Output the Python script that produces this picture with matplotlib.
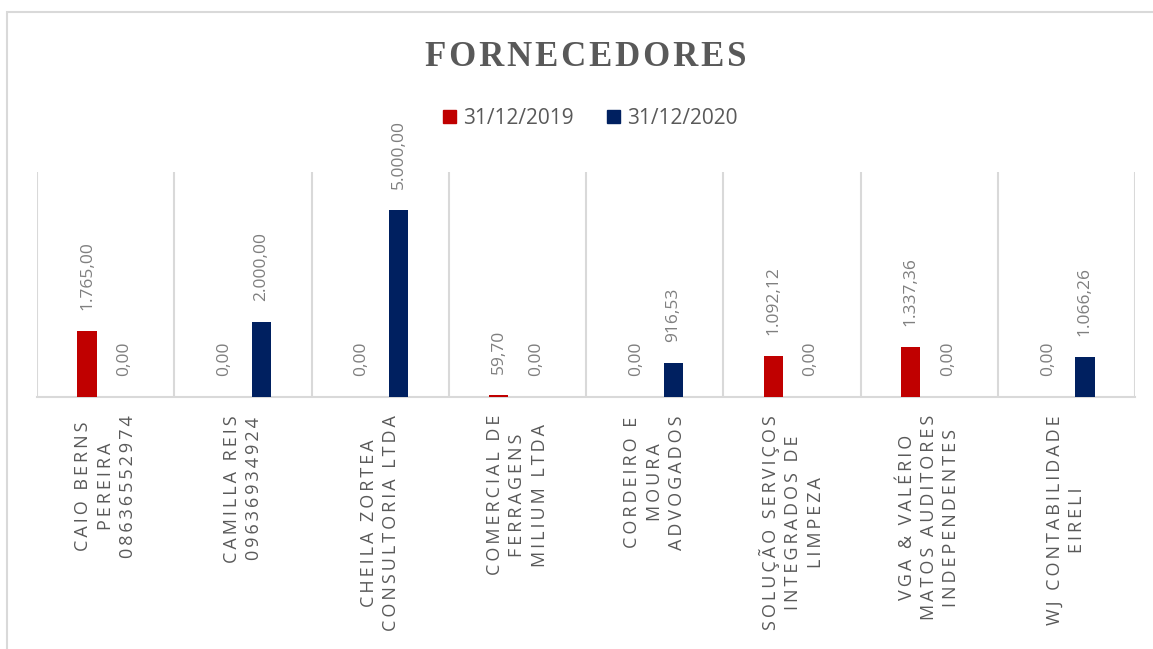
import matplotlib
matplotlib.use("Agg")
from matplotlib import pyplot as plt
from matplotlib.patches import Rectangle
import numpy as np

# data
fornecedores = ["CAIO BERNS\nPEREIRA\n08636552974",
                "CAMILLA REIS\n09636934924",
                "CHEILA ZORTEA\nCONSULTORIA LTDA",
                "COMERCIAL DE\nFERRAGENS\nMILIUM LTDA",
                "CORDEIRO E\nMOURA\nADVOGADOS",
                "SOLUÇÃO SERVIÇOS\nINTEGRADOS DE\nLIMPEZA",
                "VGA & VALÉRIO\nMATOS AUDITORES\nINDEPENDENTES",
                "WJ CONTABILIDADE\nEIRELI"]
v2019 = [1765.00, 0.00, 0.00, 59.70, 0.00, 1092.12, 1337.36, 0.00]
v2020 = [0.00, 2000.00, 5000.00, 0.00, 916.53, 0.00, 0.00, 1066.26]
series = ["31/12/2019", "31/12/2020"]

red = "#C00000"
navy = "#002060"
grey_txt = "#595959"
grid_c = "#D9D9D9"
sans = ["Open Sans", "DejaVu Sans"]

def spaced(s, sp="\u2009"):
    # fake letter spacing
    return "\n".join(sp.join(list(line)) for line in s.split("\n"))

def br(v):
    s = "{:,.2f}".format(v)
    return s.replace(",", "X").replace(".", ",").replace("X", ".")

fig = plt.figure(figsize=(11.53, 6.49), dpi=100)
ax = fig.add_axes([37/1153, 1-397/649, (1135-37)/1153, (397-172)/649])

x = np.arange(len(fornecedores))
w = 0.14
off = 0.135
b1 = ax.bar(x - off, v2019, w, color=red, label=series[0], zorder=3)
b2 = ax.bar(x + off, v2020, w, color=navy, label=series[1], zorder=3)

for bars, vals in [(b1, v2019), (b2, v2020)]:
    for r, v in zip(bars, vals):
        ax.annotate(br(v), (r.get_x() + r.get_width()/2, v),
                    xytext=(0, 15), textcoords="offset points",
                    rotation=90, ha="center", va="bottom",
                    fontsize=12.5, color="#7F7F7F", family=sans)

ax.set_xlim(-0.5, len(fornecedores) - 0.5)
ax.set_ylim(0, 6000)
ax.set_yticks([])
ax.set_xticks(x)
ax.set_xticklabels([spaced(f) for f in fornecedores], rotation=90, ha="center", va="top",
                   multialignment="center", fontsize=13, color=grey_txt,
                   family=sans, linespacing=1.3)
ax.tick_params(axis="x", length=0, pad=13)
for xb in np.arange(-0.5, len(fornecedores), 1.0):
    ax.axvline(xb, color=grid_c, lw=1.5, zorder=1)
for s in ["top", "right", "left"]:
    ax.spines[s].set_visible(False)
ax.spines["bottom"].set_color(grid_c)
ax.spines["bottom"].set_linewidth(1.5)

fig.text(0.508, 1-57/649, spaced("FORNECEDORES", "\u200a"), ha="center", va="center",
         fontsize=25, fontweight="bold", color=grey_txt,
         family=["Liberation Serif", "DejaVu Serif"])

handles = [Rectangle((0, 0), 1, 1, color=red), Rectangle((0, 0), 1, 1, color=navy)]
fig.legend(handles, series, loc="center", bbox_to_anchor=(0.512, 1-118/649), ncol=2,
           frameon=False, handlelength=0.6, handleheight=0.6, handletextpad=0.35,
           columnspacing=1.6, prop={"family": sans, "size": 15},
           labelcolor=grey_txt)

# chart area border
fig.add_artist(Rectangle((7/1153, -0.1), 1.2, 1 - 12/649 + 0.1, transform=fig.transFigure,
                         fill=False, edgecolor=grid_c, lw=1.5))

plt.savefig("out.png", dpi=100)
